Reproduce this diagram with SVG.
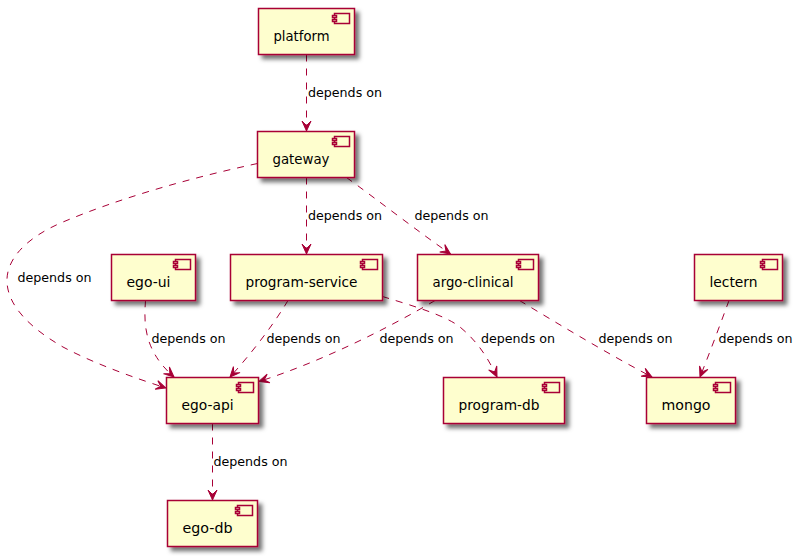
<svg xmlns="http://www.w3.org/2000/svg" width="804" height="556" viewBox="0 0 804 556">
<style>
.box{fill:#FEFECE;stroke:#A80036;stroke-width:1.5;filter:url(#sh)}
.ic{fill:#FEFECE;stroke:#A80036;stroke-width:1.5}
.n{font-family:"DejaVu Sans",sans-serif;font-size:14px;fill:#000}
.l{font-family:"DejaVu Sans",sans-serif;font-size:13px;fill:#000}
.e{fill:none;stroke:#A80036;stroke-width:1;stroke-dasharray:7,7;marker-end:url(#a)}
</style>
<defs>
<filter id="sh" x="-20%" y="-20%" width="140%" height="150%"><feDropShadow dx="4" dy="4" stdDeviation="2" flood-color="#000" flood-opacity="0.55"/></filter>
<marker id="a" markerUnits="userSpaceOnUse" viewBox="-12 -6 13 12" refX="0" refY="0" markerWidth="13" markerHeight="12" orient="auto" overflow="visible"><path d="M0,0 L-10,-4.5 L-5.5,0 L-10,4.5 Z" fill="#A80036" stroke="#A80036"/></marker>
<g id="i"><rect class="ic" x="-20" y="5" width="15" height="10"/><rect class="ic" x="-22" y="7" width="4" height="2"/><rect class="ic" x="-22" y="11" width="4" height="2"/></g>
</defs>
<g id="connectors">
<path class="e" d="M306.5,54.5 L306.5,131"/>
<path class="e" d="M306.5,177.5 L306.5,254"/>
<path class="e" d="M346.5,177.5 C375,198 420,233 450.5,254"/>
<path class="e" d="M257.5,163.5 C190,178 120,198 63,222 C25,238 6,260 7,282 C8,306 30,328 63,347 C95,364 135,378 166,388"/>
<path class="e" d="M145.5,300.5 C144,322 143,350 174,377"/>
<path class="e" d="M288,300.5 C272,327 250,355 230,377"/>
<path class="e" d="M435,300.5 C385,330 320,362 259,381.5"/>
<path class="e" d="M382.5,296.5 C410,305 445,315 460,327 C478,342 488,358 497,377"/>
<path class="e" d="M519.5,300.5 C560,325 610,355 652,377"/>
<path class="e" d="M729,300.5 C720,325 710,352 700,377"/>
<path class="e" d="M212.5,423.5 L212.5,500"/>
<g class="l">
<text x="308" y="97" textLength="74" lengthAdjust="spacingAndGlyphs">depends on</text>
<text x="308" y="220" textLength="74" lengthAdjust="spacingAndGlyphs">depends on</text>
<text x="414.5" y="220" textLength="74" lengthAdjust="spacingAndGlyphs">depends on</text>
<text x="17.5" y="282" textLength="74" lengthAdjust="spacingAndGlyphs">depends on</text>
<text x="151.5" y="343" textLength="74" lengthAdjust="spacingAndGlyphs">depends on</text>
<text x="266.5" y="343" textLength="74" lengthAdjust="spacingAndGlyphs">depends on</text>
<text x="379.5" y="343" textLength="74" lengthAdjust="spacingAndGlyphs">depends on</text>
<text x="481" y="343" textLength="74" lengthAdjust="spacingAndGlyphs">depends on</text>
<text x="598.5" y="343" textLength="74" lengthAdjust="spacingAndGlyphs">depends on</text>
<text x="718.5" y="343" textLength="74" lengthAdjust="spacingAndGlyphs">depends on</text>
<text x="213.5" y="466" textLength="74" lengthAdjust="spacingAndGlyphs">depends on</text>
</g>
</g>
<g id="platform"><rect class="box" x="258.5" y="8.5" width="96" height="46"/><use href="#i" x="354.5" y="8.5"/><text class="n" x="273.5" y="41" textLength="56" lengthAdjust="spacingAndGlyphs">platform</text></g>
<g id="gateway"><rect class="box" x="257.5" y="131.5" width="97" height="46"/><use href="#i" x="354.5" y="131.5"/><text class="n" x="272.5" y="164" textLength="57" lengthAdjust="spacingAndGlyphs">gateway</text></g>
<g id="ego-ui"><rect class="box" x="111.5" y="254.5" width="84" height="46"/><use href="#i" x="195.5" y="254.5"/><text class="n" x="126.5" y="287" textLength="44" lengthAdjust="spacingAndGlyphs">ego-ui</text></g>
<g id="program-service"><rect class="box" x="230.5" y="254.5" width="152" height="46"/><use href="#i" x="382.5" y="254.5"/><text class="n" x="245.5" y="287" textLength="112" lengthAdjust="spacingAndGlyphs">program-service</text></g>
<g id="argo-clinical"><rect class="box" x="417.5" y="254.5" width="121" height="46"/><use href="#i" x="538.5" y="254.5"/><text class="n" x="432.5" y="287" textLength="81" lengthAdjust="spacingAndGlyphs">argo-clinical</text></g>
<g id="lectern"><rect class="box" x="694.5" y="254.5" width="88" height="46"/><use href="#i" x="782.5" y="254.5"/><text class="n" x="709.5" y="287" textLength="48" lengthAdjust="spacingAndGlyphs">lectern</text></g>
<g id="ego-api"><rect class="box" x="166.5" y="377.5" width="92" height="46"/><use href="#i" x="258.5" y="377.5"/><text class="n" x="181.5" y="410" textLength="52" lengthAdjust="spacingAndGlyphs">ego-api</text></g>
<g id="program-db"><rect class="box" x="443.5" y="377.5" width="121" height="46"/><use href="#i" x="564.5" y="377.5"/><text class="n" x="458.5" y="410" textLength="81" lengthAdjust="spacingAndGlyphs">program-db</text></g>
<g id="mongo"><rect class="box" x="646.5" y="377.5" width="89" height="46"/><use href="#i" x="735.5" y="377.5"/><text class="n" x="661.5" y="410" textLength="49" lengthAdjust="spacingAndGlyphs">mongo</text></g>
<g id="ego-db"><rect class="box" x="167.5" y="500.5" width="90" height="46"/><use href="#i" x="257.5" y="500.5"/><text class="n" x="182.5" y="533" textLength="50" lengthAdjust="spacingAndGlyphs">ego-db</text></g>
</svg>
